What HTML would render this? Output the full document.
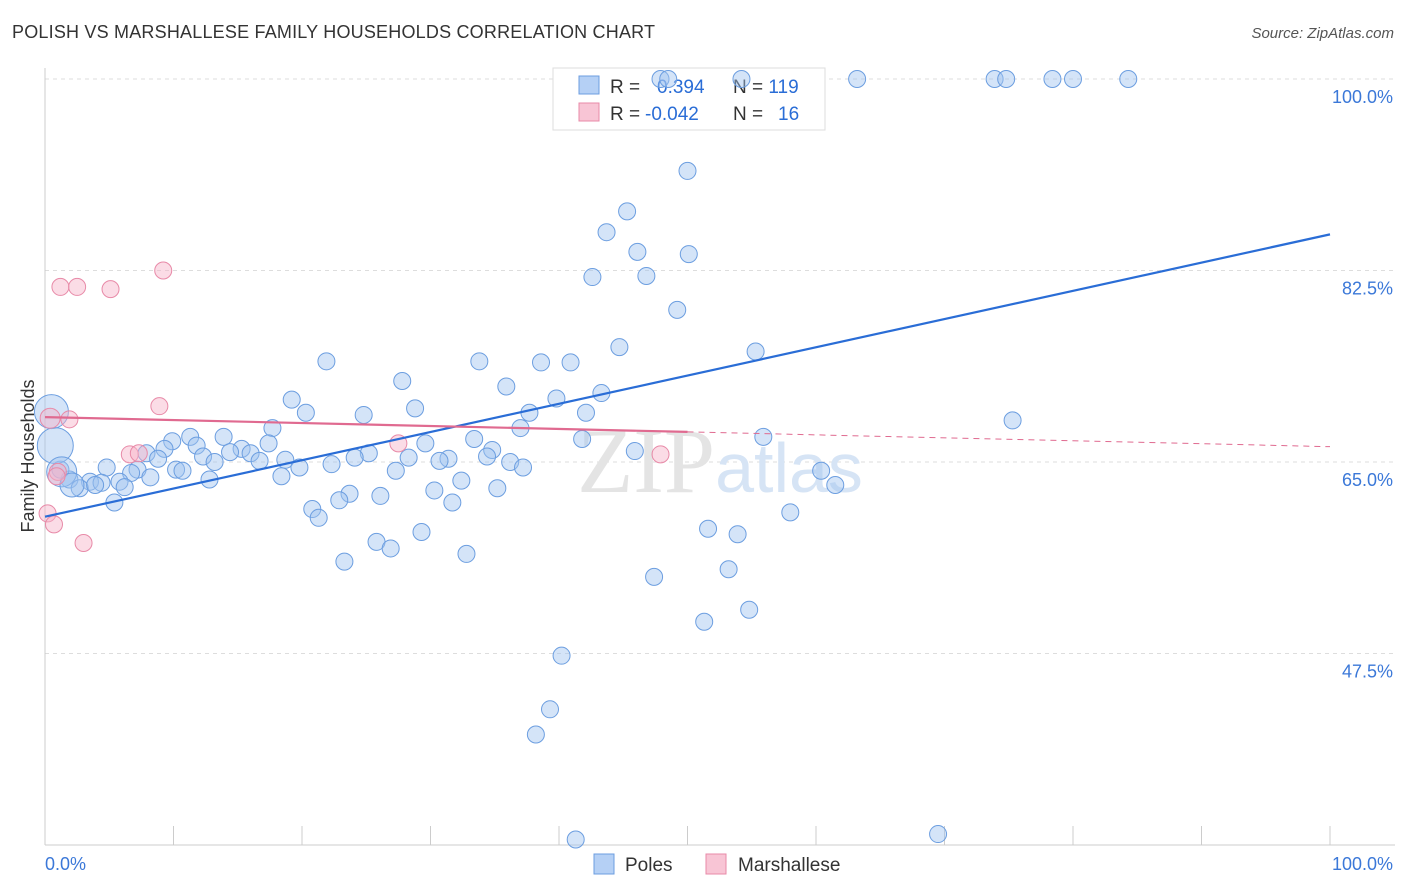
<!DOCTYPE html>
<html><head><meta charset="utf-8"><style>
body{margin:0;background:#fff;font-family:"Liberation Sans",sans-serif;}
#wrap{position:relative;width:1406px;height:892px;overflow:hidden;}
.t{position:absolute;white-space:nowrap;}
</style></head><body>
<div id="wrap">
<div class="t" style="left:12px;top:22px;font-size:18px;color:#333;letter-spacing:0.2px">POLISH VS MARSHALLESE FAMILY HOUSEHOLDS CORRELATION CHART</div>
<div class="t" style="right:12px;top:25px;font-size:15px;color:#555;font-style:italic">Source: ZipAtlas.com</div>
<svg id="svg" width="1406" height="892" style="position:absolute;left:0;top:0"></svg>
</div>
<script>
const yTicks=[100,82.5,65,47.5];
const yTickLabels=["100.0%","82.5%","65.0%","47.5%"];
const xTickLabels=["0.0%","100.0%"];
const polesX=[47.9,48.5,54.2,63.2,73.9,74.8,78.4,80.0,84.3,50.0,45.3,43.7,46.1,50.1,42.6,46.8,49.2,44.7,55.3,21.9,33.8,38.6,40.9,27.8,35.9,43.3,19.2,39.8,28.8,20.3,24.8,37.7,42.1,75.3,37.0,17.7,55.9,13.9,11.3,9.9,33.4,29.6,41.8,17.4,11.8,45.9,34.8,15.3,7.9,9.3,14.4,12.3,16.0,8.8,25.2,24.1,16.7,28.3,34.4,31.4,30.7,13.2,18.7,36.2,22.3,19.8,4.8,37.2,7.2,6.7,10.2,10.7,27.3,60.4,8.2,12.8,18.4,32.4,5.8,3.5,4.4,61.5,6.2,35.2,30.3,23.7,26.1,22.9,31.7,5.4,20.8,58.0,21.3,51.6,29.3,53.9,25.8,26.9,32.8,23.3,53.2,47.4,54.8,51.3,40.2,39.3,38.2,41.3,69.5,1.9,2.7,1.2,3.9,0.5,0.8,1.3,2.1];
const polesY=[100,100,100,100,100,100,100,100,100,91.6,87.9,86.0,84.2,84.0,81.9,82.0,78.9,75.5,75.1,74.2,74.2,74.1,74.1,72.4,71.9,71.3,70.7,70.8,69.9,69.5,69.3,69.5,69.5,68.8,68.1,68.1,67.3,67.3,67.3,66.9,67.1,66.7,67.1,66.7,66.5,66.0,66.1,66.2,65.8,66.2,65.9,65.5,65.8,65.3,65.8,65.4,65.1,65.4,65.5,65.3,65.1,65.0,65.2,65.0,64.8,64.5,64.5,64.5,64.3,64.0,64.3,64.2,64.2,64.2,63.6,63.4,63.7,63.3,63.2,63.2,63.1,62.9,62.7,62.6,62.4,62.1,61.9,61.5,61.3,61.3,60.7,60.4,59.9,58.9,58.6,58.4,57.7,57.1,56.6,55.9,55.2,54.5,51.5,50.4,47.3,42.4,40.1,30.5,31.0,63.4,62.6,64.3,62.9,69.6,66.5,64.1,62.9];
const marshX=[1.2,2.5,5.1,9.2,8.9,1.9,6.6,7.3,27.5,47.9,1.0,0.9,0.2,0.7,3.0,0.4];
const marshY=[81.0,81.0,80.8,82.5,70.1,68.9,65.7,65.8,66.7,65.7,64.1,63.7,60.3,59.3,57.6,69.0];
const bigPoles={113:17,114:18,115:15,116:12};
const polesLine=[60.0,85.8];
const marshLine=[69.1,66.4];

const X=v=>45+v*12.85, Y=v=>845-(v-30)*10.943;
const svg=document.getElementById('svg'),NS='http://www.w3.org/2000/svg';
function mk(tag,attrs,name){const e=document.createElementNS(NS,tag);for(const k in attrs)e.setAttribute(k,attrs[k]);


svg.appendChild(e);return e;}
yTicks.forEach((v,i)=>{mk('line',{x1:45,x2:1395,y1:Y(v),y2:Y(v),stroke:'#ddd','stroke-dasharray':'4,4'},'y-gridline');
const t=mk('text',{x:1393,y:Y(v)+24,'text-anchor':'end','font-size':18,fill:'#3b78d8'},'y-tick-label');t.textContent=yTickLabels[i];});
mk('line',{x1:45,x2:45,y1:68,y2:845,stroke:'#ccc'},'y-axis');
mk('line',{x1:45,x2:1395,y1:845,y2:845,stroke:'#ccc'},'x-axis');
for(let i=0;i<=10;i++)mk('line',{x1:X(i*10),x2:X(i*10),y1:826,y2:845,stroke:'#ccc'},'x-tick');
let t=mk('text',{x:45,y:870,'font-size':18,fill:'#3b78d8'},'x-tick-label');t.textContent=xTickLabels[0];
t=mk('text',{x:1393,y:870,'text-anchor':'end','font-size':18,fill:'#3b78d8'},'x-tick-label');t.textContent=xTickLabels[1];
t=mk('text',{x:34,y:456,'text-anchor':'middle','font-size':18,fill:'#333',transform:'rotate(-90 34 456)'},'y-axis-title');t.textContent='Family Households';
t=mk('text',{x:720,y:492,'text-anchor':'middle','font-size':92,fill:'#e4e4e4','font-family':'Liberation Serif'},'watermark');t.innerHTML='ZIP<tspan fill="#d6e4f5" font-family="Liberation Sans" font-size="70">atlas</tspan>';
// legend box (drawn before points so points overlay it)
mk('rect',{x:553,y:68,width:272,height:62,fill:'#fff',stroke:'#ddd'},'legend-box');
mk('rect',{x:579,y:76,width:20,height:18,fill:'#b5d0f5',stroke:'#6c9ee0'},'legend-poles-swatch');
mk('rect',{x:579,y:103,width:20,height:18,fill:'#f8c5d5',stroke:'#e88aa8'},'legend-marsh-swatch');
t=mk('text',{x:610,y:93,'font-size':19,fill:'#333'},'legend-poles-stats');t.innerHTML='R = <tspan fill="#2a6dd6" x="657">0.394</tspan><tspan x="733">N = </tspan><tspan fill="#2a6dd6">119</tspan>';
t=mk('text',{x:610,y:120,'font-size':19,fill:'#333'},'legend-marsh-stats');t.innerHTML='R = <tspan fill="#2a6dd6" x="645">-0.042</tspan><tspan x="733">N = </tspan><tspan fill="#2a6dd6" x="778">16</tspan>';
polesX.forEach((x,i)=>{const r=bigPoles[i]||8.5;mk('circle',{cx:X(x),cy:Y(polesY[i]),r:r,fill:'rgba(160,196,240,0.45)',stroke:'#6c9ee0','stroke-width':1},'poles-point');});
marshX.forEach((x,i)=>{mk('circle',{cx:X(x),cy:Y(marshY[i]),r:i==15?10:8.5,fill:'rgba(246,178,200,0.45)',stroke:'#e88aa8','stroke-width':1},'marshallese-point');});
mk('line',{x1:X(0),y1:Y(polesLine[0]),x2:X(100),y2:Y(polesLine[1]),stroke:'#2a6dd6','stroke-width':2.2},'poles-trendline');
const mAt=v=>marshLine[0]+(marshLine[1]-marshLine[0])*v/100;
mk('line',{x1:X(0),y1:Y(mAt(0)),x2:X(50),y2:Y(mAt(50)),stroke:'#e06a90','stroke-width':2.2},'marshallese-trendline');
mk('line',{x1:X(50),y1:Y(mAt(50)),x2:X(100),y2:Y(mAt(100)),stroke:'#e06a90','stroke-width':1,'stroke-dasharray':'6,5'},'marshallese-trendline-dashed');
// bottom legend
mk('rect',{x:594,y:854,width:20,height:20,fill:'#b5d0f5',stroke:'#6c9ee0'},'bottom-legend-poles-swatch');
t=mk('text',{x:625,y:871,'font-size':19,fill:'#333'},'bottom-legend-poles-label');t.textContent='Poles';
mk('rect',{x:706,y:854,width:20,height:20,fill:'#f8c5d5',stroke:'#e88aa8'},'bottom-legend-marsh-swatch');
t=mk('text',{x:738,y:871,'font-size':19,fill:'#333'},'bottom-legend-marsh-label');t.textContent='Marshallese';
</script>
</body></html>
